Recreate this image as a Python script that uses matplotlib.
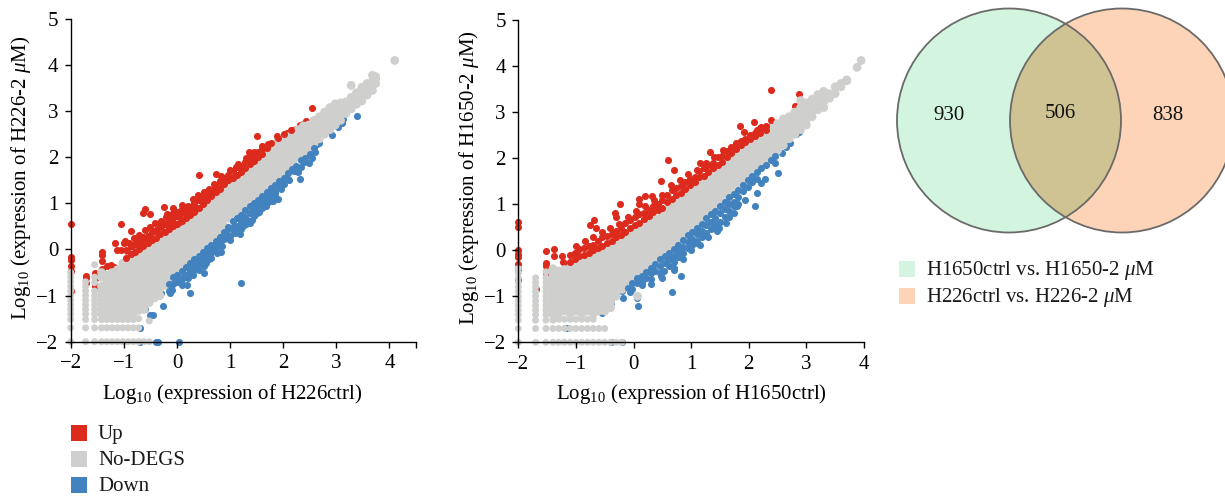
import matplotlib
matplotlib.use("Agg")
import matplotlib.pyplot as plt
from matplotlib.patches import Circle, Rectangle

plt.rcParams.update({
    "font.family": ["Liberation Serif", "DejaVu Serif"],
    "mathtext.fontset": "custom",
    "mathtext.rm": "Liberation Serif",
    "mathtext.it": "Liberation Serif:italic",
    "axes.linewidth": 1.0,
})

RED, GREY, BLUE = "#dc2a1c", "#cfcfcd", "#4282be"
GREEN_F, PEACH_F, BOTH_F = "#d3f5e0", "#fdd4b8", "#cfc394"

low_levels = [-2, -1.7, -1.52, -1.4, -1.3, -1.2, -1.1, -1.0, -0.9]

# ----- H226 panel -----
h226_grey = [
    (-2.0, low_levels + [-0.8, -0.7, -0.6, -0.5]),
    (-1.72, low_levels + [-0.8, -0.7]),
    (-1.55, low_levels + [-0.72, -0.6, -0.33]),
    (-1.42, low_levels + [-0.8, -0.6, -0.5]),
    (-1.32, [-2, -1.7, -1.52, -1.4, -1.28, -1.16, -1.04, -0.92, -0.8, -0.68, -0.56]),
    (-1.22, [-2, -1.7, -1.52, -1.4, -1.28, -1.16, -1.04, -0.92, -0.8, -0.68, -0.56, -0.5]),
    (-1.12, [-2, -1.7, -1.52, -1.4, -1.28, -1.16, -1.04, -0.92, -0.8, -0.68, -0.56, -0.44]),
    (-1.02, [-2, -1.7, -1.52, -1.4, -1.28, -1.16, -1.04, -0.92, -0.8, -0.68, -0.56, -0.44, -0.3]),
    (-0.92, [-2, -1.7, -1.52, -1.4, -1.28, -1.16, -1.04, -0.92, -0.8, -0.68, -0.56, -0.44, -0.32, -0.2]),
    (-0.82, [-2, -1.7, -1.52, -1.38, -1.25, -1.12, -0.99, -0.86, -0.73, -0.6, -0.47, -0.34, -0.21, -0.1]),
    (-0.72, [-2, -1.7, -1.5, -1.32, -1.19, -1.06, -0.93, -0.8, -0.67, -0.54, -0.41, -0.28, -0.15, -0.05]),
    (-0.62, [-2, -1.3, -1.17, -1.04, -0.91, -0.78, -0.65, -0.52, -0.39, -0.26, -0.13, 0]),
    (-0.52, [-2, -1.55, -1.15, -1.02, -0.89, -0.76, -0.63, -0.5, -0.37, -0.24, -0.11, 0.02, 0.08]),
    (-0.42, [-1.05, -0.92, -0.79, -0.66, -0.53, -0.4, -0.27, -0.14, -0.01, 0.12]),
    (-0.32, [-1.0, -0.85, -0.72, -0.59, -0.46, -0.33, -0.2, -0.07, 0.06, 0.19]),
    (-0.22, [-0.78, -0.65, -0.52, -0.39, -0.26, -0.13, 0, 0.13, 0.25]),
    (-0.12, [-0.62, -0.49, -0.36, -0.23, -0.1, 0.03, 0.16, 0.3]),
    (-0.02, [-0.45, -0.32, -0.19, -0.06, 0.07, 0.2, 0.33, 0.38]),
    (0.08, [-0.36, -0.23, -0.1, 0.03, 0.16, 0.29, 0.42]),
    (0.18, [-0.25, -0.12, 0.01, 0.14, 0.27, 0.4, 0.53]),
    (0.28, [-0.15, -0.02, 0.11, 0.24, 0.37, 0.5, 0.6]),
    (0.38, [-0.05, 0.08, 0.21, 0.34, 0.47, 0.6, 0.68]),
    (0.48, [0.05, 0.18, 0.31, 0.44, 0.57, 0.7, 0.78]),
    (0.58, [0.15, 0.28, 0.41, 0.54, 0.67, 0.8, 0.9]),
    (0.68, [0.27, 0.4, 0.53, 0.66, 0.79, 0.92, 1.0]),
    (0.78, [0.4, 0.53, 0.66, 0.79, 0.92, 1.05, 1.12]),
    (0.88, [0.52, 0.65, 0.78, 0.91, 1.04, 1.17, 1.25]),
    (0.98, [0.68, 0.81, 0.94, 1.07, 1.2, 1.33]),
    (1.08, [0.78, 0.91, 1.04, 1.17, 1.3, 1.43]),
    (1.18, [0.88, 1.01, 1.14, 1.27, 1.4, 1.53]),
    (1.28, [1.0, 1.13, 1.26, 1.39, 1.52, 1.62]),
    (1.38, [1.08, 1.21, 1.34, 1.47, 1.6, 1.73]),
    (1.48, [1.18, 1.31, 1.44, 1.57, 1.7, 1.83]),
    (1.58, [1.28, 1.41, 1.54, 1.67, 1.8, 1.93]),
    (1.68, [1.38, 1.51, 1.64, 1.77, 1.9, 2.03, 2.12]),
    (1.78, [1.47, 1.6, 1.73, 1.86, 1.99, 2.12, 2.22]),
    (1.88, [1.58, 1.71, 1.84, 1.97, 2.1, 2.23, 2.32]),
    (1.98, [1.68, 1.81, 1.94, 2.07, 2.2, 2.33, 2.4]),
    (2.08, [1.8, 1.93, 2.06, 2.19, 2.32, 2.45]),
    (2.18, [1.9, 2.03, 2.16, 2.29, 2.42, 2.52]),
    (2.28, [2.0, 2.13, 2.26, 2.39, 2.52, 2.6]),
    (2.38, [2.08, 2.21, 2.34, 2.47, 2.6, 2.68]),
    (2.48, [2.18, 2.31, 2.44, 2.57, 2.7]),
    (2.58, [2.3, 2.43, 2.56, 2.69, 2.8]),
    (2.68, [2.4, 2.53, 2.66, 2.79, 2.88]),
    (2.78, [2.5, 2.63, 2.76, 2.89, 2.98]),
    (2.88, [2.6, 2.73, 2.86, 2.99, 3.08]),
    (2.98, [2.7, 2.83, 2.96, 3.09, 3.16]),
    (3.08, [2.8, 2.93, 3.06, 3.18]),
    (3.18, [2.95, 3.08, 3.2]),
    (3.28, [3.05, 3.18, 3.3, 3.56]),
    (3.38, [3.15, 3.28, 3.4]),
    (3.48, [3.22, 3.35, 3.52]),
    (3.58, [3.35, 3.48, 3.6]),
    (3.68, [3.45, 3.58, 3.65, 3.78]),
    (3.74, [3.6, 3.7, 3.75]),
    (4.1, [4.1]),
]
h226_up_x = [-2, -2, -2, -2, -2, -2, -1.72, -1.72, -1.72, -1.55, -1.55, -1.55, -1.42, -1.42, -1.42, -1.42, -1.32, -1.25,
             -1.18, -1.2, -1.16, -1.12, -1.05, -1.05, -0.97, -1.0, -0.86, -0.78, -0.75, -0.61, -0.63, -0.5, -0.25, -0.07,
             0.1, -0.19, 2.55, 2.42, 2.32, 2.19, 2.08, 1.88, 1.51, 1.85, 1.72, 1.66, 1.5, 1.35, 1.32, 0.42, 0.73, 1.12,
             -1.05, -1.0, -0.95, -0.92, -0.88, -0.85, -0.8, -0.78, -0.72, -0.7, -0.65, -0.65, -0.6, -0.58, -0.55, -0.5,
             -0.48, -0.45, -0.42, -0.4, -0.36, -0.33, -0.3, -0.28, -0.25, -0.22, -0.2, -0.16, -0.12, -0.1, -0.06, -0.02,
             0, 0.03, 0.06, 0.1, 0.14, 0.18, 0.22, 0.26, 0.3, 0.34, 0.38, 0.42, 0.45, 0.5, 0.52, 0.56, 0.6, 0.62, 0.66,
             0.7, 0.74, 0.8, 0.85, 0.9, 0.95, 1.0, 1.05, 1.1, 1.15, 1.2, 1.25, 1.3, 1.35, 1.4, 1.45, 1.5, 1.55, 1.6, 1.66,
             1.72, 1.8, 1.85, 1.95, 2.0, 2.25, 2.38]
h226_up_y = [0.55, -0.17, -0.22, -0.36, -0.47, -0.9, -0.57, -0.62, -0.72, -0.52, -0.65, -0.8, -0.05, -0.13, -0.25, -0.42,
             -0.35, -0.33, -0.37, -0.55, 0.14, -0.02, -0.02, 0.56, 0.18, 0.15, 0.4, 0.25, 0.2, 0.87, 0.8, 0.76, 0.93, 0.9,
             0.96, 0.76, 3.08, 2.79, 2.7, 2.59, 2.52, 2.46, 2.46, 2.27, 2.28, 2.14, 2.1, 2.12, 1.92, 1.62, 1.64, 1.78,
             -0.45, -0.3, -0.2, -0.05, -0.25, 0.0, -0.1, -0.25, 0.08, -0.2, -0.05, 0.2, 0.25, -0.1, 0.08, 0.3,
             0.15, 0.05, 0.4, 0.22, 0.1, 0.33, 0.48, 0.2, 0.12, 0.38, 0.28, 0.5, 0.35, 0.62, 0.45, 0.35,
             0.55, 0.7, 0.48, 0.62, 0.5, 0.72, 0.62, 0.82, 0.68, 0.92, 0.76, 0.85, 1.05, 0.82, 1.0, 1.22, 0.95, 1.15, 1.02,
             1.25, 1.1, 1.18, 1.35, 1.28, 1.48, 1.35, 1.55, 1.42, 1.6, 1.55, 1.7, 1.62, 1.75, 1.68, 1.88, 1.82, 2.05, 1.95,
             2.1, 2.05, 2.2, 2.1, 2.28, 2.32, 2.62, 2.72]
h226_up_dense = [
    (-0.95, [-0.18, -0.02]), (-0.87, [-0.1, 0.08]), (-0.79, [-0.05, 0.12]), (-0.71, [0.0, 0.2]), (-0.63, [0.08, 0.28]),
    (-0.55, [0.15, 0.3]), (-0.47, [0.2, 0.38]), (-0.39, [0.25, 0.42]), (-0.31, [0.33, 0.5]), (-0.23, [0.38, 0.56]),
    (-0.15, [0.45, 0.62]), (-0.07, [0.5, 0.68]), (0.01, [0.55, 0.72]), (0.09, [0.62, 0.8]), (0.17, [0.68, 0.85]),
    (0.25, [0.75, 0.92]), (0.33, [0.82, 1.0]), (0.41, [0.9, 1.08]), (0.49, [0.98, 1.15]), (0.57, [1.08, 1.25]),
    (0.65, [1.15, 1.3]), (0.73, [1.25, 1.38]), (0.81, [1.32, 1.48]), (0.89, [1.42, 1.55]), (0.97, [1.5, 1.62]),
    (1.05, [1.55, 1.7]), (1.13, [1.62, 1.78]), (1.21, [1.68, 1.82]), (1.29, [1.76, 1.9]), (1.37, [1.85, 1.98]),
    (1.45, [1.92, 2.05]), (1.53, [2.0, 2.12]), (1.61, [2.08, 2.18]), (1.69, [2.2, 2.24]), (1.77, [2.3]), (1.9, [2.42]),
    (2.02, [2.5]), (2.15, [2.6]),
    (-0.9, [0.15]), (-0.8, [0.25]), (-0.72, [0.32]), (-0.6, [0.42]), (-0.5, [0.48]), (-0.42, [0.58]), (-0.3, [0.62]),
    (-0.2, [0.7]), (-0.1, [0.78]), (0.0, [0.82]), (0.1, [0.88]), (0.2, [0.95]), (0.3, [1.1]), (0.4, [1.18]), (0.5, [1.25]),
    (0.6, [1.32]), (0.7, [1.42]), (0.82, [1.6]), (1.0, [1.72]), (1.15, [1.85]), (1.3, [1.98]), (1.45, [2.12]), (1.6, [2.25]),
]
h226_down_x = [1.2, 3.38, 3.12, 3.1, 3.03, 2.92, 2.67, 2.63, 2.6, 2.48, 2.54, 2.32, 2.34, 2.22, -0.7, -0.5, -0.45, -0.27,
               -0.3, -0.3, -0.6, -0.7, -0.4, -0.35, 0.03, -0.19, -0.25, -0.07, 0.03, 0.09, 0.03, 0.18, 0.24, -0.1, -0.13,
               0.51, 0.5, 0.37, 0.28, 0.15, 0.32, 0.42, 0.56, 0.69, 0.82, 0.78, 0.62, 0.72, 0.88, 1.0, 1.19, 1.07, 0.95,
               1.12, 1.25, 1.32, 1.38, 1.45, 1.5, 1.2, 1.3, 1.55, 1.6, 1.69, 1.91, 1.66, 1.82, 1.75, 1.85, 2.0, 2.07, 2.2,
               1.95, 2.1, 2.28, 2.4, 2.45, 1.4, 1.52, 1.7, 0.9, 0.6, 0.45, 0.22, 0.12]
h226_down_y = [-0.72, 2.9, 2.84, 2.74, 2.65, 2.49, 2.32, 2.28, 2.12, 1.88, 1.98, 1.54, 1.78, 1.8, -1.7, -1.42, -1.42,
               -1.22, -0.95, -0.8, -1.3, -2, -2, -2, -2, -0.54, -0.62, -0.47, -0.36, -0.76, -0.65, -0.76, -0.94, -0.87,
               -0.94, -0.52, -0.36, -0.33, -0.14, -0.3, -0.45, -0.22, 0, 0.04, -0.06, 0.22, -0.12, 0.12, 0.3, 0.29, 0.33,
               0.51, 0.45, 0.42, 0.5, 0.65, 0.58, 0.72, 0.8, 0.48, 0.62, 0.98, 0.9, 1.01, 1.1, 0.94, 1.16, 1.05, 1.2, 1.41,
               1.67, 1.7, 1.32, 1.5, 1.68, 1.9, 2.05, 0.8, 0.95, 1.2, 0.25, -0.2, -0.1, -0.5, -0.62]
h226_down_dense = [
    (-0.15, [-0.75, -0.9]), (-0.07, [-0.6, -0.75]), (0.01, [-0.55, -0.7]), (0.09, [-0.46, -0.62]), (0.17, [-0.38, -0.55]),
    (0.25, [-0.3, -0.45]), (0.33, [-0.2, -0.35]), (0.41, [-0.15, -0.3]), (0.49, [-0.05, -0.2]), (0.57, [0.03, -0.12]),
    (0.65, [0.1, -0.05]), (0.73, [0.18, 0.03]), (0.81, [0.28, 0.12]), (0.89, [0.38, 0.22]), (0.97, [0.48, 0.32]),
    (1.05, [0.62, 0.42]), (1.13, [0.68, 0.52]), (1.21, [0.75, 0.6]), (1.29, [0.85, 0.7]), (1.37, [0.95, 0.8]),
    (1.45, [1.0, 0.85]), (1.53, [1.08, 0.95]), (1.61, [1.15, 1.02]), (1.69, [1.25, 1.1]), (1.77, [1.33, 1.18]),
    (1.85, [1.4, 1.25]), (1.93, [1.48, 1.35]), (2.01, [1.55, 1.42]), (2.09, [1.65, 1.52]), (2.17, [1.75]),
    (2.25, [1.82, 1.7]), (2.33, [1.95]), (2.41, [1.98]), (2.5, [2.08]), (2.58, [2.2]),
    (0.1, [-0.75]), (0.2, [-0.62]), (0.3, [-0.55]), (0.42, [-0.45]), (0.55, [-0.3]), (0.65, [-0.18]), (0.75, [-0.08]),
    (0.85, [0.08]), (1.0, [0.2]), (1.1, [0.35]), (1.2, [0.45]), (1.3, [0.55]), (1.42, [0.65]), (1.55, [0.82]), (1.68, [0.95]),
    (1.8, [1.05]),
]

# ----- H1650 panel -----
h1650_grey = [
    (-2.0, low_levels + [-0.8, -0.7, -0.6, -0.5, -0.4]),
    (-1.7, low_levels + [-0.8, -0.7, -0.6]),
    (-1.52, low_levels + [-0.8, -0.7, -0.6, -0.47]),
    (-1.4, low_levels + [-0.8, -0.7, -0.6, -0.5, -0.4]),
    (-1.3, [-2, -1.7, -1.5, -1.38, -1.26, -1.14, -1.02, -0.9, -0.78, -0.66, -0.54, -0.45]),
    (-1.2, [-2, -1.7, -1.5, -1.32, -1.2, -1.08, -0.96, -0.84, -0.72, -0.6, -0.48, -0.42]),
    (-1.1, [-2, -1.7, -1.5, -1.38, -1.26, -1.14, -1.02, -0.9, -0.78, -0.66, -0.54, -0.38]),
    (-1.0, [-2, -1.7, -1.5, -1.32, -1.2, -1.08, -0.96, -0.84, -0.72, -0.6, -0.48, -0.36, -0.3]),
    (-0.9, [-2, -1.7, -1.5, -1.38, -1.26, -1.14, -1.02, -0.9, -0.78, -0.66, -0.54, -0.42, -0.3, -0.25]),
    (-0.8, [-2, -1.7, -1.5, -1.32, -1.2, -1.08, -0.96, -0.84, -0.72, -0.6, -0.48, -0.36, -0.24, -0.2]),
    (-0.7, [-2, -1.7, -1.5, -1.38, -1.26, -1.14, -1.02, -0.9, -0.78, -0.66, -0.54, -0.42, -0.3, -0.18, -0.15]),
    (-0.6, [-2, -1.7, -1.32, -1.2, -1.08, -0.96, -0.84, -0.72, -0.6, -0.48, -0.36, -0.24, -0.12, -0.08]),
    (-0.5, [-2, -1.7, -1.32, -1.2, -1.08, -0.96, -0.84, -0.72, -0.6, -0.48, -0.36, -0.24, -0.12, -0.02]),
    (-0.4, [-2, -1.25, -1.13, -1.01, -0.89, -0.77, -0.65, -0.53, -0.41, -0.29, -0.17, -0.05, 0.05]),
    (-0.3, [-2, -1.0, -0.88, -0.76, -0.64, -0.52, -0.4, -0.28, -0.16, -0.04, 0.08, 0.15]),
    (-0.2, [-2, -0.85, -0.73, -0.61, -0.49, -0.37, -0.25, -0.13, -0.01, 0.11, 0.22]),
    (-0.1, [-0.72, -0.6, -0.48, -0.36, -0.24, -0.12, 0, 0.12, 0.24, 0.32]),
    (0.0, [-0.58, -0.46, -0.34, -0.22, -0.1, 0.02, 0.14, 0.26, 0.38, 0.42]),
    (0.07, [-1.0]),
    (0.1, [-0.45, -0.33, -0.21, -0.09, 0.03, 0.15, 0.27, 0.39, 0.5]),
    (0.2, [-0.38, -0.26, -0.14, -0.02, 0.1, 0.22, 0.34, 0.46, 0.58]),
    (0.3, [-0.27, -0.15, -0.03, 0.09, 0.21, 0.33, 0.45, 0.57, 0.62]),
    (0.4, [-0.17, -0.05, 0.07, 0.19, 0.31, 0.43, 0.55, 0.67]),
    (0.5, [-0.08, 0.04, 0.16, 0.28, 0.4, 0.52, 0.64, 0.76]),
    (0.6, [0.03, 0.15, 0.27, 0.39, 0.51, 0.63, 0.75, 0.87]),
    (0.7, [0.13, 0.25, 0.37, 0.49, 0.61, 0.73, 0.85, 0.97, 1.02]),
    (0.8, [0.25, 0.37, 0.49, 0.61, 0.73, 0.85, 0.97, 1.09]),
    (0.9, [0.37, 0.49, 0.61, 0.73, 0.85, 0.97, 1.09, 1.21]),
    (1.0, [0.5, 0.62, 0.74, 0.86, 0.98, 1.1, 1.22, 1.3]),
    (1.1, [0.6, 0.72, 0.84, 0.96, 1.08, 1.2, 1.32, 1.4]),
    (1.2, [0.72, 0.84, 0.96, 1.08, 1.2, 1.32, 1.44, 1.5]),
    (1.3, [0.85, 0.97, 1.09, 1.21, 1.33, 1.45, 1.57]),
    (1.4, [0.96, 1.08, 1.2, 1.32, 1.44, 1.56, 1.66]),
    (1.5, [1.08, 1.2, 1.32, 1.44, 1.56, 1.68, 1.75]),
    (1.6, [1.2, 1.32, 1.44, 1.56, 1.68, 1.8, 1.85]),
    (1.7, [1.32, 1.44, 1.56, 1.68, 1.8, 1.92, 1.97]),
    (1.8, [1.45, 1.57, 1.69, 1.81, 1.93, 2.05, 2.08]),
    (1.9, [1.55, 1.67, 1.79, 1.91, 2.03, 2.15]),
    (2.0, [1.67, 1.79, 1.91, 2.03, 2.15, 2.27]),
    (2.1, [1.78, 1.9, 2.02, 2.14, 2.26, 2.38]),
    (2.2, [1.88, 2.0, 2.12, 2.24, 2.36, 2.48]),
    (2.3, [1.97, 2.09, 2.21, 2.33, 2.45, 2.57]),
    (2.4, [2.07, 2.19, 2.31, 2.43, 2.55, 2.65]),
    (2.5, [2.17, 2.29, 2.41, 2.53, 2.65, 2.75]),
    (2.6, [2.28, 2.4, 2.52, 2.64, 2.76, 2.85]),
    (2.7, [2.42, 2.54, 2.66, 2.78, 2.9]),
    (2.8, [2.52, 2.64, 2.76, 2.88, 3.0]),
    (2.9, [2.62, 2.74, 2.86, 2.98, 3.1, 3.25]),
    (3.0, [2.72, 2.84, 2.96, 3.08, 3.2]),
    (3.1, [2.9, 3.02, 3.14, 3.28]),
    (3.2, [3.05, 3.12, 3.24, 3.38]),
    (3.3, [3.1, 3.22, 3.34, 3.45]),
    (3.4, [3.3, 3.4]),
    (3.5, [3.4, 3.55]),
    (3.6, [3.55, 3.62]),
    (3.7, [3.68, 3.7]),
    (3.88, [3.97]),
    (3.95, [4.12]),
]
h1650_up_x = [2.38, 2.87, 2.8, 2.38, 2.09, 1.85, 1.91, 2.14, 2.22, 2.4, 1.32, 0.6, 0.7, 1.16, 0.48, -0.24, 0.32, 0.2, 0.1,
              0.1, -0.33, -0.3, -0.68, -0.75, -0.66, -2, -2, -2, -2, -2, -2, -2, -2, -1.52, -1.52, -1.52, -1.52, -1.38,
              -1.38, -1.38, -1.7, -1.25, -1.22, -1.2, -1.15]
h1650_up_y = [3.49, 3.39, 3.14, 2.82, 2.78, 2.7, 2.56, 2.62, 2.67, 2.72, 2.14, 1.95, 1.75, 1.9, 1.51, 1.0, 1.17, 1.17, 1.12,
              1.0, 0.8, 0.72, 0.65, 0.55, 0.48, 0.62, 0.5, 0, -0.08, -0.15, -0.3, -0.4, -0.65, -0.02, -0.28, -0.35, -0.5,
              0.02, -0.12, -0.9, -0.85, -0.12, -0.25, -0.55, -0.35]
h1650_up_dense = [
    (-1.1, [-0.25, -0.1]), (-1.02, [-0.2, -0.05]), (-0.94, [-0.12, 0.02]), (-0.86, [-0.1, 0.05]), (-0.78, [-0.05, 0.1]),
    (-0.7, [0, 0.12]), (-0.62, [0.05, 0.2]), (-0.54, [0.1, 0.28]), (-0.46, [0.15, 0.3]), (-0.38, [0.2, 0.35]),
    (-0.3, [0.28, 0.42]), (-0.22, [0.32, 0.48]), (-0.14, [0.4, 0.6]), (-0.06, [0.48, 0.65]), (0.02, [0.55, 0.72]),
    (0.1, [0.6, 0.78]), (0.18, [0.68, 0.8]), (0.26, [0.75, 0.88]), (0.34, [0.82, 0.95]), (0.42, [0.88, 1.0]),
    (0.5, [0.92, 1.08]), (0.58, [1.05, 1.2]), (0.66, [1.12, 1.3]), (0.74, [1.2, 1.35]), (0.82, [1.25, 1.4]),
    (0.9, [1.32, 1.48]), (0.98, [1.42, 1.55]), (1.06, [1.48, 1.6]), (1.14, [1.58, 1.72]), (1.22, [1.62, 1.78]),
    (1.3, [1.7, 1.85]), (1.38, [1.78, 1.9]), (1.46, [1.85, 2.02]), (1.54, [1.92, 2.05]), (1.62, [2.02, 2.15]),
    (1.7, [2.12, 2.25]), (1.78, [2.2, 2.32]), (1.86, [2.28, 2.38]), (1.94, [2.35, 2.42]), (2.02, [2.42, 2.5]),
    (2.1, [2.48, 2.55]), (2.2, [2.55, 2.65]), (2.3, [2.62, 2.7]),
    (-1.0, [0.1]), (-0.85, [0.2]), (-0.7, [0.28]), (-0.55, [0.4]), (-0.4, [0.48]), (-0.25, [0.58]), (-0.1, [0.72]),
    (0.05, [0.85]), (0.2, [0.95]), (0.35, [1.1]), (0.5, [1.2]), (0.65, [1.42]), (0.8, [1.52]), (0.95, [1.65]), (1.1, [1.75]),
    (1.25, [1.9]), (1.4, [2.02]), (1.55, [2.18]),
]
h1650_down_x = [2.88, 2.82, 2.71, 2.65, 2.57, 2.5, 2.45, 2.29, 2.21, 2.15, 2.1, 1.94, 1.79, 1.65, 1.49, 1.1, 0.83, 0.7,
                0.66, 0.53, 0.48, 0.3, 0.15, 0.08, 0.06, -0.06, -0.19, -0.2, -0.39, -0.39, -0.55, -0.86, -1.15, -0.39,
                -0.2, -0.55, -0.3, -0.18]
h1650_down_y = [2.56, 2.53, 2.33, 2.25, 2.12, 1.67, 1.89, 1.54, 1.46, 1.25, 0.95, 1.09, 0.95, 0.73, 0.48, 0.15, -0.57, -0.44,
                -0.9, -0.46, -0.55, -0.73, -0.75, -1.21, -1.03, -0.9, -1.03, -0.88, -1.03, -1.15, -1.37, -1.3, -1.7, -2,
                -2, -1.2, -0.85, -0.78]
h1650_down_dense = [
    (-0.1, [-0.82]), (-0.02, [-0.72, -0.85]), (0.06, [-0.6, -0.72]), (0.14, [-0.55, -0.68]), (0.22, [-0.48, -0.6]),
    (0.3, [-0.38, -0.5, -0.62]), (0.38, [-0.3, -0.45]), (0.46, [-0.2, -0.35, -0.5]), (0.54, [-0.12, -0.28]),
    (0.62, [-0.05, -0.2, -0.35]), (0.7, [0.03, -0.12, -0.25]), (0.78, [0.12, -0.02, -0.15]), (0.86, [0.22, 0.08, -0.05]),
    (0.94, [0.32, 0.18, 0.05]), (1.02, [0.4, 0.25, 0.12]), (1.1, [0.48, 0.35, 0.2]), (1.18, [0.58, 0.42, 0.28]),
    (1.26, [0.7, 0.55, 0.38]), (1.34, [0.78, 0.62, 0.45]), (1.42, [0.85, 0.7, 0.55]), (1.5, [0.95, 0.8, 0.62]),
    (1.58, [1.05, 0.9, 0.72]), (1.66, [1.15, 1.0, 0.85]), (1.74, [1.22, 1.05, 0.95]), (1.82, [1.3, 1.15, 1.0]),
    (1.9, [1.42, 1.28]), (1.98, [1.52, 1.38]), (2.06, [1.62, 1.48]), (2.14, [1.7, 1.55]), (2.22, [1.78]), (2.3, [1.85]),
    (2.38, [1.95]), (2.46, [2.05]),
    (0.5, [-0.6]), (0.7, [-0.38]), (0.85, [-0.2]), (1.0, [0.0]), (1.15, [0.12]), (1.3, [0.28]), (1.45, [0.42]), (1.6, [0.6]),
    (1.75, [0.8]),
]

# ----- Venn -----
venn_counts = [930, 506, 838]
venn_labels = ["H1650ctrl vs. H1650-2 $\\mu$M", "H226ctrl vs. H226-2 $\\mu$M"]
class_labels = ["Up", "No-DEGS", "Down"]


def unpack(cols):
    xs, ys = [], []
    for x, col in cols:
        xs += [x] * len(col)
        ys += col
    return xs, ys


W, H = 1225, 496
fig = plt.figure(figsize=(W / 100, H / 100), dpi=100)


def panel(left, right, top, bottom, grey, up_x, up_y, up_dense, down_x, down_y, down_dense, xmax, xticks, xlab, ylab, xlab_px, ylab_px):
    ax = fig.add_axes([left / W, 1 - bottom / H, (right - left) / W, (bottom - top) / H])
    ax.set_xlim(-2, xmax)
    ax.set_ylim(-2, 5)
    kw = dict(linewidths=0, clip_on=False)
    ax.scatter(up_x, up_y, color=RED, s=26, zorder=1, **kw)
    ax.scatter(down_x, down_y, color=BLUE, s=26, zorder=1, **kw)
    gx, gy = unpack(grey)
    # the dense part of the cloud merges into a solid band, the low-count columns stay dotted
    sizes = [40 if (x > -1.45 and y > -1.45) else 25 for x, y in zip(gx, gy)]
    ax.scatter(gx, gy, color=GREY, s=sizes, zorder=1.2, **kw)
    # points along the band edges sit over the grey
    ux, uy = unpack(up_dense)
    ax.scatter(ux, uy, color=RED, s=26, zorder=1.4, **kw)
    dx, dy = unpack(down_dense)
    ax.scatter(dx, dy, color=BLUE, s=26, zorder=1.4, **kw)
    for s in ["top", "right"]:
        ax.spines[s].set_visible(False)
    ax.set_xticks(xticks)
    ax.set_xticklabels([("\u2212%d" % -t if t < 0 else "%d" % t) if t == int(t) else "" for t in xticks], fontsize=15)
    ax.set_yticks(range(-2, 6))
    ax.set_yticklabels(["\u22122", "\u22121", "0", "1", "2", "3", "4", "5"], fontsize=15)
    ax.tick_params(length=4, width=1, pad=5)
    fig.text(xlab_px / W, 1 - 394 / H, xlab, fontsize=15, ha="center", va="center")
    fig.text(ylab_px / W, 1 - 178 / H, ylab, fontsize=15, rotation=90, ha="center", va="center")
    return ax


panel(70.7, 416, 19, 341.7, h226_grey, h226_up_x, h226_up_y, h226_up_dense, h226_down_x, h226_down_y, h226_down_dense,
      4.5, [-2, -1, 0, 1, 2, 3, 4, 4.5],
      "Log$_{10}$ (expression of H226ctrl)", "Log$_{10}$ (expression of H226-2 $\\mu$M)", 232, 21)
panel(518.3, 864, 20, 342.3, h1650_grey, h1650_up_x, h1650_up_y, h1650_up_dense, h1650_down_x, h1650_down_y, h1650_down_dense,
      4, [-2, -1, 0, 1, 2, 3, 4],
      "Log$_{10}$ (expression of H1650ctrl)", "Log$_{10}$ (expression of H1650-2 $\\mu$M)", 691, 469)

# overlay in pixel coordinates for venn and the key squares
ov = fig.add_axes([0, 0, 1, 1])
ov.set_xlim(0, W)
ov.set_ylim(H, 0)
ov.axis("off")
ov.patch.set_alpha(0)

c1 = Circle((1009, 120.5), 112, fc=GREEN_F, ec="none")
c2 = Circle((1122, 120.5), 112, fc=PEACH_F, ec="none")
ov.add_patch(c1)
ov.add_patch(c2)
both = Circle((1122, 120.5), 112, fc=BOTH_F, ec="none")
ov.add_patch(both)
both.set_clip_path(c1)
for c in [(1009, 120.5), (1122, 120.5)]:
    ov.add_patch(Circle(c, 112, fc="none", ec="#6a6a68", lw=1.3))
for x, y, n in zip([949, 1060, 1168], [115, 113, 115], venn_counts):
    ov.text(x, y, str(n), fontsize=15, ha="center", va="center", color="#111111")

for y, col, lab in zip([261, 288], [GREEN_F, PEACH_F], venn_labels):
    ov.add_patch(Rectangle((899, y), 16, 16, fc=col, ec="none"))
    ov.text(926, y + 9.5, lab, fontsize=15, ha="left", va="center", color="#1a1a1a")
for y, col, lab in zip([425, 451, 477], [RED, GREY, BLUE], class_labels):
    ov.add_patch(Rectangle((71, y), 16, 16, fc=col, ec="none"))
    ov.text(98, y + 9.5, lab, fontsize=15, ha="left", va="center", color="#1a1a1a")

fig.savefig("out.png", dpi=100)
